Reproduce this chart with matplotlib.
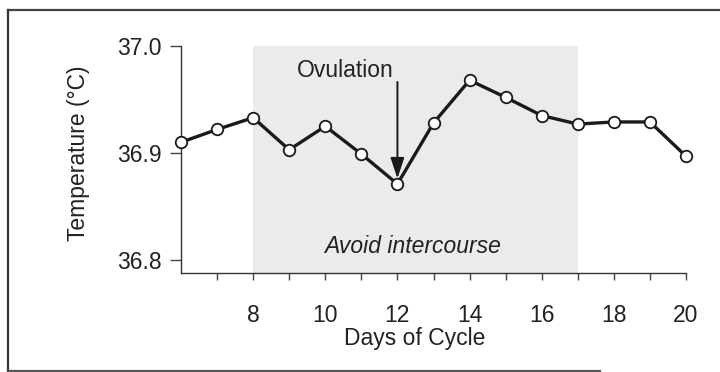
import matplotlib.pyplot as plt
from matplotlib.lines import Line2D

plt.rcParams['font.family'] = ['Liberation Sans', 'DejaVu Sans']

days = [6, 7, 8, 9, 10, 11, 12, 13, 14, 15, 16, 17, 18, 19, 20]
temps = [36.910, 36.922, 36.933, 36.903, 36.925, 36.899, 36.871, 36.928,
         36.968, 36.952, 36.935, 36.927, 36.929, 36.929, 36.897]
avoid_start, avoid_end = 8, 17
ovulation_day = 12
x_ticks = [8, 10, 12, 14, 16, 18, 20]
y_ticks = [36.8, 36.9, 37.0]

W, H = 720, 372
FS = 16.5
TXT = '#222222'

fig = plt.figure(figsize=(W / 100, H / 100), dpi=100)
ax = fig.add_axes([181 / W, 1 - 272.7 / H, 505 / W, 226.7 / H])

ax.set_xlim(6, 20)
ax.set_ylim(36.7881, 37.0)

# shaded fertile window
ax.axvspan(avoid_start, avoid_end, color='#ebebeb', lw=0, zorder=0)

ax.plot(days, temps, color='#1a1a1a', lw=2.4, marker='o', ms=8.3,
        mfc='white', mec='#1a1a1a', mew=1.3, zorder=3, clip_on=False)

ov_temp = temps[days.index(ovulation_day)]
ax.annotate('', xy=(ovulation_day, ov_temp + 0.0052), xytext=(ovulation_day, 36.9664),
            arrowprops=dict(arrowstyle='-|>,head_length=0.9,head_width=0.3',
                            color='#1a1a1a', lw=1.4, mutation_scale=14,
                            shrinkA=0, shrinkB=0))
ax.text(10.56, 36.9713, 'Ovulation', ha='center', va='baseline', fontsize=FS, color=TXT)
ax.text(12.42, 36.8068, 'Avoid intercourse', ha='center', va='baseline', fontsize=FS,
        style='italic', color=TXT)

for s in ['top', 'right']:
    ax.spines[s].set_visible(False)
for s in ['left', 'bottom']:
    ax.spines[s].set_color('#333333')
    ax.spines[s].set_linewidth(1.0)

ax.set_xticks(range(7, 21))
ax.set_xticklabels([str(d) if d in x_ticks else '' for d in range(7, 21)])
ax.set_yticks(y_ticks)
ax.set_yticklabels(['36.8', '36.9', '37.0'])
ax.tick_params(axis='x', direction='out', length=5, width=1, color='#444444',
               labelsize=FS, pad=17.5, labelcolor=TXT)
ax.tick_params(axis='y', direction='out', length=8, width=1, color='#444444',
               labelsize=FS, pad=6, labelcolor=TXT)

fig.text(414.7 / W, 1 - 345 / H, 'Days of Cycle', ha='center', va='baseline',
         fontsize=FS, color=TXT)
fig.text(78 / W, 1 - 153 / H, 'Temperature (°C)', ha='center', va='center',
         rotation=90, fontsize=FS, color=TXT)

# outer frame
fig.add_artist(Line2D([8 / W, 1], [1 - 10 / H] * 2, transform=fig.transFigure,
                      color='#444444', lw=1.6))
fig.add_artist(Line2D([8 / W] * 2, [1 - 10 / H, 1 - 370.5 / H],
                      transform=fig.transFigure, color='#333333', lw=1.6))
fig.add_artist(Line2D([8 / W, 600 / W], [1 - 370.5 / H] * 2,
                      transform=fig.transFigure, color='#555555', lw=1.6))

fig.savefig('out.png', dpi=100, facecolor='white')
